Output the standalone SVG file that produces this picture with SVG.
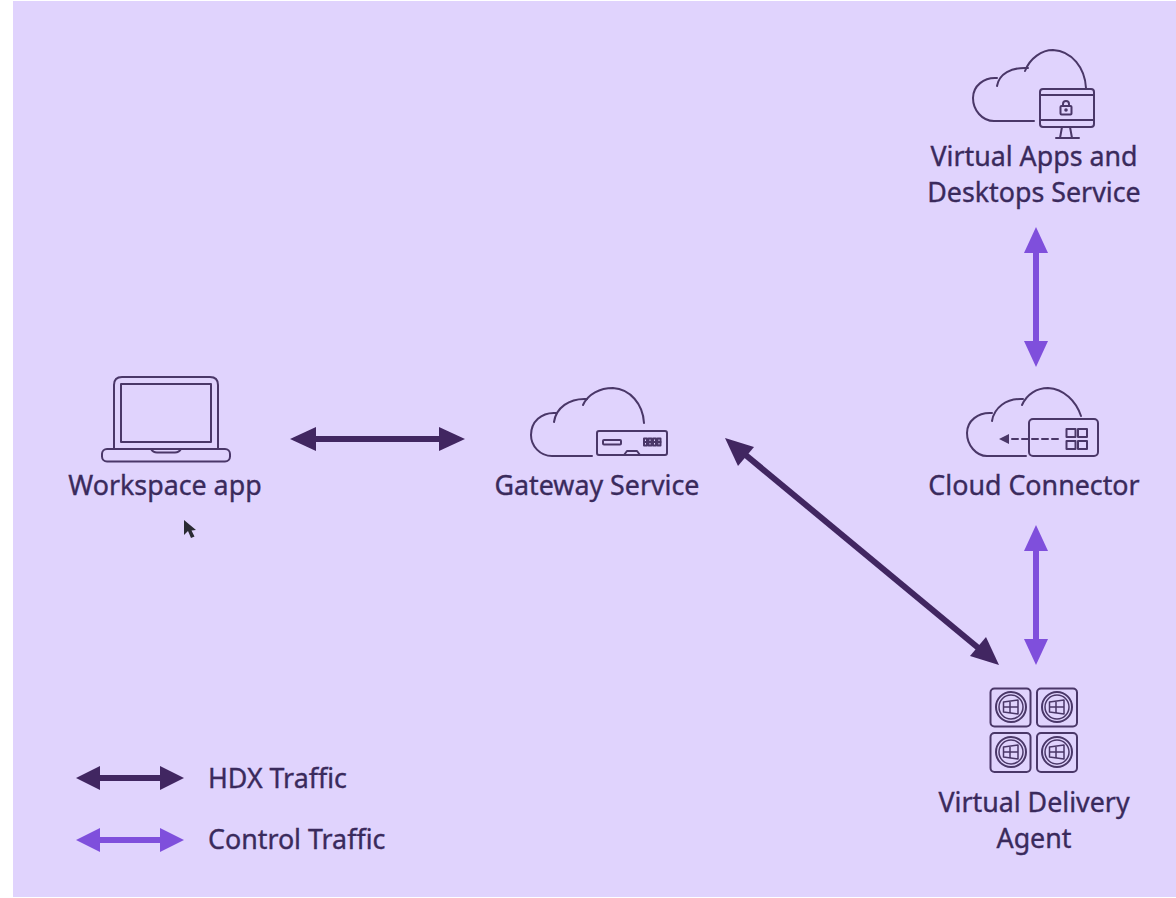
<svg xmlns="http://www.w3.org/2000/svg" width="1176" height="898" viewBox="0 0 1176 898">
<style>
text{font-family:"Noto Sans","Open Sans",sans-serif;font-size:26.800px;fill:#3a2a5c;stroke:#3a2a5c;stroke-width:.35;text-anchor:middle}
.leg{text-anchor:start}
.i{fill:none;stroke:#4a3768;stroke-width:2;stroke-linecap:round;stroke-linejoin:round}
.w{fill:none;stroke:#4a3768;stroke-width:1.500;stroke-linejoin:round}
.f{fill:#4a3768;stroke:none}
.h{stroke:#412661;stroke-width:6;fill:none}
.c{stroke:#7f4fdc;stroke-width:6;fill:none}
.hh{fill:#412661}
.ch{fill:#7f4fdc}
</style>
<rect width="1176" height="898" fill="#fff"/>
<rect x="13" y="1" width="1163" height="896" fill="#e0d3fd"/>
<g id="connectors">
<path class="h" d="M310 439H445"/>
<path class="hh" d="M290 439L316 427V451Z"/>
<path class="hh" d="M465 439L439 427V451Z"/>
<path class="h" d="M742 452L982 651"/>
<path class="hh" d="M725 438L754 447L738 466Z"/>
<path class="hh" d="M999 665L970 656L986 637Z"/>
<path class="c" d="M1036 245V350"/>
<path class="ch" d="M1036 227L1048 253H1024Z"/>
<path class="ch" d="M1036 367L1048 341H1024Z"/>
<path class="c" d="M1036 543V648"/>
<path class="ch" d="M1036 525L1048 551H1024Z"/>
<path class="ch" d="M1036 665L1048 639H1024Z"/>
</g>
<g id="workspace-app">
<path class="i" d="M114 449V385Q114 377 122 377H210Q218 377 218 385V449"/>
<rect class="i" x="121" y="384" width="90" height="58"/>
<rect class="i" x="102" y="449" width="128" height="12.500" rx="5"/>
<path class="i" d="M151 449Q153 452.500 157 452.500H175Q179 452.500 181 449"/>
<text x="165" y="495">Workspace app</text>
</g>
<path id="cursor" fill="#2a2a33" d="M184 520V535L188 531L191 538L194.500 536.500L191.500 530.500L196 530Z"/>
<g id="gateway-service">
<path class="i" d="M592 456H552C540 456 531 446 531 435C531 422 541 412 556 413"/>
<path class="i" d="M554 422C556 408 569 398 587 399"/>
<path class="i" d="M583 405C588 394 600 388 613 388C630 389 643 404 644 423"/>
<rect class="i" x="597" y="431" width="70" height="24" rx="2"/>
<rect class="i" x="603" y="440" width="18" height="4.500" rx="1"/>
<path class="i" d="M624 455L627 451H637L640 455"/>
<g stroke-width="1.400" class="i"><rect x="644" y="438.500" width="3" height="7"/><rect x="648.500" y="438.500" width="3" height="7"/><rect x="653" y="438.500" width="3" height="7"/><rect x="657.500" y="438.500" width="3" height="7"/><path d="M644 442H660.500"/></g>
<text x="597" y="495">Gateway Service</text>
</g>
<g id="cloud-connector">
<path class="i" d="M1026 456H987C976 456 967 445 967 433C967 421 978 412 992 413"/>
<path class="i" d="M992 421C994 408 1006 398 1023 399"/>
<path class="i" d="M1022 405C1027 394 1037 388 1048 388C1064 389 1076 401 1081 416"/>
<rect class="i" x="1029" y="419" width="69" height="37" rx="4"/>
<path class="i" stroke-dasharray="6 4" d="M1058 439H1008"/>
<path class="f" d="M999 439L1009 434V444Z"/>
<rect class="i" x="1066.500" y="429" width="9" height="8"/>
<rect class="i" x="1078" y="429" width="9" height="8"/>
<rect class="i" x="1066.500" y="441" width="9" height="8"/>
<rect class="i" x="1078" y="441" width="9" height="8"/>
<text x="1034" y="495">Cloud Connector</text>
</g>
<g id="virtual-apps">
<path class="i" d="M1034 121H994C982 121 973 110 973 98C973 86 984 77 997 78"/>
<path class="i" d="M997 86C999 74 1011 67 1028 68"/>
<path class="i" d="M1025 71C1030 58 1042 50 1053 50C1072 51 1085 68 1086 88"/>
<rect class="i" x="1040" y="89" width="54" height="38" rx="3"/>
<path class="i" d="M1040 95H1094M1040 120H1094"/>
<rect class="i" x="1060.500" y="106" width="11" height="8.500" rx="1"/>
<path class="i" d="M1063 106V104Q1063 101 1066 101Q1069 101 1069 104V106"/>
<circle class="f" cx="1066" cy="110" r="1.800"/>
<path class="i" d="M1062 127L1060 138M1070 127L1072 138M1056 138H1079"/>
<text x="1034" y="166">Virtual Apps and</text>
<text x="1034" y="202">Desktops Service</text>
</g>
<g id="virtual-delivery-agent">
<g id="vda-tile-1"><rect class="i" x="990.500" y="688.500" width="40" height="38" rx="4"/><circle class="i" cx="1011" cy="707" r="15"/><circle class="w" cx="1011" cy="707" r="12"/><path class="w" d="M1003.500 702L1018 700V714L1003.500 712ZM1010 701V713M1003.500 707H1018"/></g>
<g id="vda-tile-2"><rect class="i" x="1037" y="688.500" width="40" height="38" rx="4"/><circle class="i" cx="1057" cy="707" r="15"/><circle class="w" cx="1057" cy="707" r="12"/><path class="w" d="M1049.500 702L1064 700V714L1049.500 712ZM1056 701V713M1049.500 707H1064"/></g>
<g id="vda-tile-3"><rect class="i" x="990.500" y="733" width="40" height="39" rx="4"/><circle class="i" cx="1011" cy="752" r="15"/><circle class="w" cx="1011" cy="752" r="12"/><path class="w" d="M1003.500 747L1018 745V759L1003.500 757ZM1010 746V758M1003.500 752H1018"/></g>
<g id="vda-tile-4"><rect class="i" x="1037" y="733" width="40" height="39" rx="4"/><circle class="i" cx="1057" cy="752" r="15"/><circle class="w" cx="1057" cy="752" r="12"/><path class="w" d="M1049.500 747L1064 745V759L1049.500 757ZM1056 746V758M1049.500 752H1064"/></g>
<text x="1034" y="812">Virtual Delivery</text>
<text x="1034" y="848">Agent</text>
</g>
<g id="legend">
<path class="h" d="M95 778H165"/>
<path class="hh" d="M76 778L100 766V790Z"/>
<path class="hh" d="M184 778L160 766V790Z"/>
<path class="c" d="M95 840H165"/>
<path class="ch" d="M76 840L100 828V852Z"/>
<path class="ch" d="M184 840L160 828V852Z"/>
<text class="leg" x="208" y="788">HDX Traffic</text>
<text class="leg" x="208" y="849">Control Traffic</text>
</g>
</svg>
